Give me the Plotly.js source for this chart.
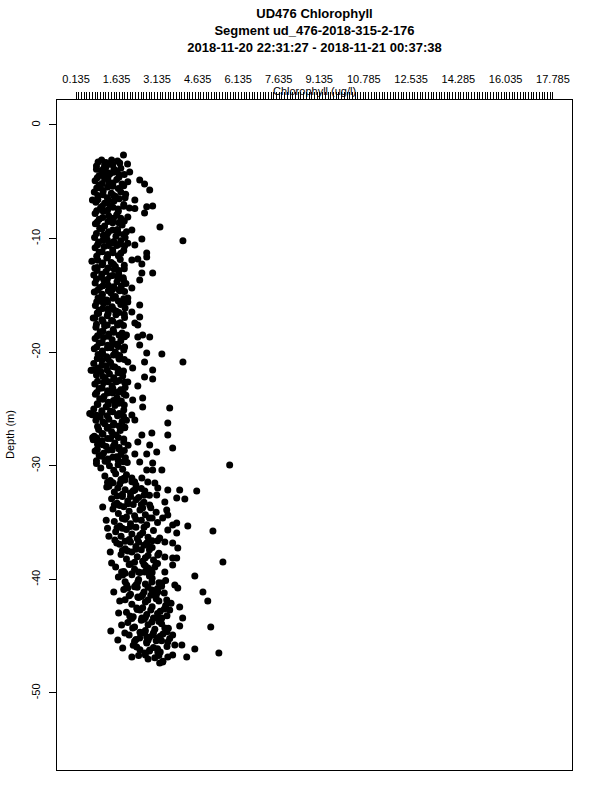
<!DOCTYPE html>
<html>
<head>
<meta charset="utf-8">
<script src="https://cdn.plot.ly/plotly-3.0.1.min.js"></script>
<style>
html,body{margin:0;padding:0;background:#fff;}
#chart{width:600px;height:800px;}
</style>
</head>
<body>
<div id="chart"></div>
<script>
// ---- Data: chlorophyll (ug/l) vs depth (m) ----
// Upper part of the profile (about -2.6 m to -30.5 m)
const chlUpper = [
  1.89,1.08,1.45,1.67,2.04,1.19,0.89,1.24,1.49,1.79,
  2.12,0.89,1.09,1.24,1.39,1.54,1.74,0.99,1.31,1.64,
  2.49,2.67,0.84,0.99,1.19,1.34,1.49,1.64,1.84,2.05,
  2.86,0.81,0.94,1.14,1.29,1.44,1.59,1.79,1.95,1.04,
  2.31,2.97,2.75,0.87,1.04,1.19,1.39,1.54,1.69,1.90,2.11,0.94,
  2.31,2.67,2.05,0.84,0.99,1.14,1.34,1.49,1.64,1.79,
  3.24,2.20,0.85,1.01,1.19,1.34,1.49,1.67,1.84,2.00,
  4.09,2.57,0.82,0.97,1.14,1.29,1.44,1.61,1.79,1.95,
  2.05,2.31,2.75,0.84,0.99,1.17,1.31,1.49,1.64,1.79,
  2.20,2.42,2.57,2.75,0.83,0.94,1.11,1.27,1.44,1.59,1.77,1.92,
  2.97,2.57,0.79,0.91,1.07,1.24,1.39,1.55,1.71,1.88,
  2.49,2.20,0.84,1.01,1.17,1.33,1.49,1.65,1.81,1.98,
  2.05,0.81,0.95,1.11,1.27,1.43,1.59,1.75,1.90,1.04,
  2.05,2.49,2.20,0.85,0.99,1.15,1.31,1.47,1.63,1.79,1.95,
  2.49,2.31,0.83,0.97,1.13,1.29,1.45,1.61,1.77,1.93,
  2.42,2.00,2.60,0.87,1.03,1.19,1.35,1.51,1.67,1.84,
  2.42,2.86,2.49,1.93,0.84,0.99,1.15,1.31,1.47,1.63,1.79,
  2.75,3.31,0.81,0.95,1.11,1.27,1.43,1.59,1.75,1.90,
  4.09,2.05,2.67,0.79,0.93,1.09,1.25,1.41,1.57,1.73,2.23,
  2.97,2.67,2.97,0.74,0.89,1.05,1.21,1.37,1.53,1.69,1.86,
  2.42,2.05,0.83,0.99,1.15,1.31,1.47,1.63,1.79,1.95,
  2.60,2.23,0.85,1.01,1.17,1.33,1.49,1.65,1.81,1.98,
  2.60,3.60,2.20,0.79,0.94,1.09,1.25,1.41,1.57,1.73,1.90,
  2.31,3.53,0.73,0.87,1.03,1.19,1.35,1.51,1.67,1.84,2.00,
  2.94,2.57,3.53,0.81,0.97,1.13,1.29,1.45,1.61,1.77,1.94,
  2.42,2.86,3.71,0.77,0.93,1.09,1.25,1.41,1.57,1.73,1.90,2.06,
  3.12,2.75,2.31,0.84,0.99,1.15,1.31,1.47,1.63,1.79,1.96,
  2.97,5.82,2.49,2.75,3.31,2.97,0.89,1.05,1.21,1.37,1.53,1.69,1.86,2.03,
  0.74,0.72,0.69,0.64,0.75,0.77
];
const depthUpper = [
  -2.64,-3.08,-3.08,-3.17,-3.43,-3.52,-3.60,-3.30,-3.50,-3.80,
  -4.14,-3.90,-4.00,-3.70,-4.30,-3.90,-4.40,-4.45,-4.20,-4.10,
  -4.84,-5.19,-4.90,-5.30,-4.70,-5.00,-5.40,-4.80,-5.20,-5.00,
  -5.72,-5.90,-6.20,-5.80,-6.40,-6.00,-6.30,-5.90,-6.40,-5.55,
  -6.60,-7.13,-7.20,-6.80,-7.30,-6.90,-7.10,-6.70,-7.40,-7.00,-7.30,-6.55,
  -7.35,-7.75,-8.10,-7.80,-8.30,-7.60,-8.00,-8.40,-7.90,-8.20,
  -8.98,-9.24,-8.70,-9.10,-8.90,-9.40,-8.60,-9.20,-8.80,-9.40,
  -10.20,-10.04,-9.90,-10.30,-9.70,-10.10,-10.40,-9.80,-10.20,-9.90,
  -10.40,-10.56,-11.27,-10.80,-11.20,-10.70,-11.40,-11.00,-10.60,-11.30,
  -11.88,-11.80,-12.24,-11.62,-12.60,-11.90,-12.30,-11.70,-12.10,-12.45,-11.85,-12.35,
  -13.03,-13.03,-13.20,-12.80,-13.40,-12.90,-13.30,-12.70,-13.10,-13.45,
  -13.64,-14.35,-13.90,-14.30,-13.70,-14.10,-14.45,-13.80,-14.20,-13.95,
  -15.23,-14.70,-15.20,-14.90,-15.40,-14.80,-15.10,-14.60,-15.30,-15.50,
  -15.58,-15.85,-16.46,-15.90,-16.30,-15.70,-16.20,-16.00,-16.40,-15.80,-16.10,
  -16.90,-17.43,-17.00,-16.60,-17.30,-16.80,-17.20,-16.70,-17.40,-16.95,
  -17.60,-18.49,-18.49,-17.80,-18.20,-17.70,-18.40,-18.00,-17.60,-18.30,
  -18.66,-18.66,-19.37,-19.54,-18.80,-19.20,-18.70,-19.40,-18.90,-19.30,-19.00,
  -20.07,-20.16,-19.70,-20.20,-19.90,-20.40,-19.60,-20.00,-20.30,-19.80,
  -20.86,-20.86,-20.86,-21.00,-21.40,-20.70,-21.20,-20.90,-21.30,-20.60,-21.40,
  -21.57,-22.18,-22.36,-21.60,-22.00,-21.70,-22.30,-21.90,-22.40,-21.80,-22.10,
  -22.98,-22.62,-22.80,-23.20,-22.70,-23.40,-23.00,-22.60,-23.30,-23.10,
  -24.03,-24.21,-23.70,-24.10,-23.90,-24.40,-23.60,-24.00,-24.30,-23.80,
  -24.82,-24.91,-25.53,-25.00,-24.60,-25.30,-24.80,-25.20,-24.70,-25.40,-25.10,
  -25.97,-26.23,-25.50,-26.00,-25.70,-26.30,-25.90,-26.40,-25.60,-26.10,-26.00,
  -27.11,-27.29,-27.29,-27.40,-26.80,-27.20,-26.70,-27.00,-27.30,-26.90,-26.60,
  -27.90,-28.17,-28.43,-27.70,-28.10,-27.80,-28.30,-27.60,-28.00,-28.40,-27.90,-28.20,
  -28.79,-28.96,-28.96,-28.70,-29.10,-28.90,-29.40,-28.60,-29.20,-29.00,-29.30,
  -29.75,-29.93,-29.67,-30.37,-30.37,-30.37,-29.80,-30.20,-29.60,-30.00,-30.40,-29.90,-30.30,-29.70,
  -6.60,-12.00,-21.60,-25.40,-27.50,-17.00
];
// Upper part, additional points filling the dense core
const chlUpperFill = [
  0.95,1.15,1.35,1.55,1.75,
  0.92,1.12,1.32,1.52,1.72,1.92,
  0.90,1.10,1.30,1.50,1.70,1.90,
  0.93,1.13,1.33,1.53,1.73,1.97,
  0.90,1.10,1.30,1.50,1.70,1.90,
  0.92,1.12,1.32,1.52,1.72,1.92,
  0.89,1.09,1.29,1.49,1.69,1.89,
  0.93,1.13,1.33,1.53,1.73,1.93,
  0.90,1.10,1.30,1.50,1.70,1.90,
  0.92,1.12,1.32,1.52,1.72,1.92,
  0.89,1.09,1.29,1.49,1.69,1.89,
  0.93,1.13,1.33,1.53,1.73,1.93,
  0.90,1.10,1.30,1.50,1.70,1.90,
  0.92,1.12,1.32,1.52,1.72,1.92,
  0.89,1.09,1.29,1.49,1.69,1.89,
  0.93,1.13,1.33,1.53,1.73,1.93,
  0.90,1.10,1.30,1.50,1.70,1.90,
  0.92,1.12,1.32,1.52,1.72,1.92,
  0.89,1.09,1.29,1.49,1.69,1.89,
  0.93,1.13,1.33,1.53,1.73,1.93,
  0.90,1.10,1.30,1.50,1.70,1.90,
  0.92,1.12,1.32,1.52,1.72,1.92,
  0.89,1.09,1.29,1.49,1.69,1.89,
  0.93,1.13,1.33,1.53,1.73,1.93,
  0.90,1.10,1.30,1.50,1.70,1.90,
  0.92,1.12,1.32,1.52,1.72,1.92,
  0.89,1.09,1.29,1.49,1.69,1.89
];
const depthUpperFill = [
  -3.25,-3.85,-3.45,-3.95,-3.35,
  -4.65,-4.25,-4.55,-4.15,-4.60,-4.35,
  -5.55,-5.15,-5.45,-5.10,-5.60,-5.35,
  -6.55,-6.15,-6.60,-6.20,-6.50,-6.10,
  -7.55,-7.15,-7.50,-7.25,-7.60,-7.15,
  -8.55,-8.15,-8.50,-8.20,-8.60,-8.45,
  -9.55,-9.15,-9.60,-9.25,-9.50,-9.65,
  -10.55,-10.15,-10.60,-10.25,-10.50,-10.65,
  -11.55,-11.15,-11.60,-11.25,-11.50,-11.05,
  -12.55,-12.15,-12.60,-12.25,-12.80,-12.65,
  -13.55,-13.15,-13.60,-13.25,-13.50,-13.65,
  -14.55,-14.15,-14.60,-14.25,-14.50,-14.65,
  -15.55,-15.15,-15.60,-15.25,-15.50,-15.65,
  -16.55,-16.15,-16.60,-16.25,-16.50,-16.65,
  -17.55,-17.15,-17.60,-17.25,-17.50,-17.65,
  -18.55,-18.15,-18.60,-18.25,-18.50,-18.65,
  -19.55,-19.15,-19.60,-19.25,-19.50,-19.65,
  -20.55,-20.15,-20.60,-20.25,-20.50,-20.65,
  -21.55,-21.15,-21.60,-21.25,-21.50,-21.65,
  -22.55,-22.15,-22.60,-22.25,-22.50,-22.65,
  -23.55,-23.15,-23.60,-23.25,-23.50,-23.65,
  -24.55,-24.15,-24.60,-24.25,-24.50,-24.65,
  -25.55,-25.15,-25.60,-25.25,-25.50,-25.65,
  -26.55,-26.15,-26.60,-26.25,-26.50,-26.65,
  -27.55,-27.15,-27.60,-27.25,-27.50,-27.65,
  -28.55,-28.15,-28.60,-28.25,-28.50,-28.65,
  -29.55,-29.15,-29.60,-29.25,-29.50,-29.65
];
// Lower part of the profile, scattered points (about -31 m to -47.4 m)
const chlLowerScatter = [
  1.27,1.12,1.68,1.94,2.20,2.57,2.79,3.05,3.16,3.53,
  3.97,4.60,3.86,4.16,3.12,3.42,2.68,2.31,2.86,2.60,
  3.49,3.34,3.53,3.86,4.27,5.20,3.71,3.53,3.86,3.23,
  3.42,3.71,3.90,2.86,3.16,3.42,3.71,3.86,3.71,5.57,
  1.45,1.57,1.64,1.82,1.86,4.53,2.68,3.05,3.42,3.79,
  2.01,2.42,2.94,3.31,
  1.53,2.05,1.75,1.71,2.12,1.82,1.42,1.68,1.86,2.20,
  2.38,2.68,3.34,3.23,3.71,4.23,4.53,5.42,5.12,5.01,
  4.83,3.90,3.97,4.08,3.97,3.16,3.71,3.79,3.60,3.49,
  3.16,2.94,2.79,2.42,2.38,2.57,2.94,3.31,3.42,2.68,
  2.97,3.53,4.05,3.16,2.86,3.53,1.94,2.23,2.49,2.75
];
const depthLowerScatter = [
  -31.87,-33.63,-31.95,-31.25,-31.07,-31.07,-31.43,-31.51,-31.95,-32.13,
  -32.13,-32.22,-32.83,-32.92,-32.57,-33.19,-32.22,-32.13,-33.45,-33.71,
  -33.89,-34.60,-34.33,-35.04,-35.30,-35.74,-35.21,-35.65,-35.92,-36.36,
  -36.71,-36.80,-37.24,-37.15,-37.85,-38.03,-38.12,-38.12,-38.73,-38.47,
  -38.56,-36.53,-36.80,-39.35,-39.61,-39.70,-39.35,-38.91,-39.35,-40.49,
  -40.49,-40.23,-40.23,-40.32,
  -41.11,-40.76,-41.90,-42.96,-43.22,-44.01,-44.54,-45.33,-46.04,-46.83,
  -45.95,-46.48,-47.27,-47.36,-46.65,-46.83,-46.13,-46.48,-44.19,-41.90,
  -41.11,-40.76,-42.43,-43.40,-44.10,-45.16,-44.89,-45.77,-42.69,-41.81,
  -41.11,-40.93,-41.81,-41.55,-42.52,-43.40,-43.75,-43.40,-44.28,-44.63,
  -44.89,-45.51,-45.77,-46.39,-46.21,-46.83,-44.72,-44.28,-45.16,-45.07
];
// Lower part of the profile, dense core
const chlLowerCore = [
  1.20,1.40,1.60,1.80,2.00,2.20,1.50,1.90,
  1.35,1.55,1.75,1.95,2.15,2.35,2.55,1.85,2.25,
  1.45,1.65,1.85,2.05,2.25,2.45,2.65,2.85,1.75,2.35,
  1.50,1.70,1.90,2.10,2.30,2.50,2.70,2.90,3.10,2.00,
  1.55,1.75,1.95,2.15,2.35,2.55,2.75,2.95,3.15,1.85,
  1.60,1.80,2.00,2.20,2.40,2.60,2.80,3.00,2.10,2.50,
  1.75,1.95,2.15,2.35,2.55,2.75,2.95,3.15,2.05,2.65,
  1.80,2.00,2.20,2.40,2.60,2.80,3.00,3.20,2.30,2.70,
  1.60,1.90,2.10,2.30,2.50,2.70,2.90,3.10,2.20,2.80,
  1.70,1.95,2.20,2.45,2.70,2.95,3.20,2.35,2.85,3.45,
  1.90,2.15,2.40,2.65,2.90,3.15,3.40,2.55,3.05,
  1.95,2.20,2.45,2.70,2.95,3.20,3.45,2.60,3.10,3.65,
  2.00,2.25,2.50,2.75,3.00,3.25,3.50,2.65,3.15,
  2.05,2.30,2.55,2.80,3.05,3.30,3.55,2.70,3.20,
  2.10,2.35,2.60,2.85,3.10,3.35,3.60,2.75,3.25,
  2.25,2.50,2.75,3.00,3.25,3.50,2.85,3.15,
  2.45,2.80,3.05,3.35,
  1.25,1.35,1.40,1.30
];
const depthLowerCore = [
  -30.90,-31.30,-30.70,-31.20,-30.80,-31.40,-31.50,-31.10,
  -31.80,-32.30,-31.60,-32.10,-32.40,-31.70,-32.00,-32.50,-32.20,
  -32.90,-33.30,-32.70,-33.10,-33.40,-32.80,-33.20,-32.60,-33.50,-33.00,
  -33.80,-34.20,-33.60,-34.00,-34.40,-33.90,-34.30,-33.70,-34.10,-34.50,
  -34.90,-35.30,-34.70,-35.10,-35.40,-34.80,-35.20,-34.60,-35.00,-35.50,
  -35.80,-36.20,-35.60,-36.00,-36.40,-35.90,-36.30,-35.70,-36.50,-36.10,
  -36.90,-37.30,-36.70,-37.10,-37.40,-36.80,-37.20,-36.60,-37.50,-37.00,
  -37.80,-38.20,-37.60,-38.00,-38.40,-37.90,-38.30,-37.70,-38.50,-38.10,
  -38.90,-39.30,-38.70,-39.10,-39.40,-38.80,-39.20,-38.60,-39.50,-39.00,
  -39.80,-40.20,-39.60,-40.00,-40.40,-39.90,-40.30,-40.50,-39.70,-40.10,
  -40.90,-41.30,-40.70,-41.10,-41.40,-40.80,-41.20,-41.50,-41.00,
  -41.80,-42.20,-41.60,-42.00,-42.40,-41.90,-42.30,-42.50,-41.70,-42.10,
  -42.90,-43.30,-42.70,-43.10,-43.40,-42.80,-43.20,-43.50,-43.00,
  -43.80,-44.20,-43.60,-44.00,-44.40,-43.90,-44.30,-44.50,-43.70,
  -44.90,-45.30,-44.70,-45.10,-45.40,-44.80,-45.20,-45.50,-45.00,
  -45.80,-46.20,-45.60,-46.00,-46.40,-45.90,-46.30,-46.10,
  -46.70,-47.00,-46.90,-47.20,
  -34.80,-36.20,-37.60,-35.50
];
// Lower part, additional points filling the core
const chlLowerFill = [
  1.30,1.80,2.30,
  1.65,2.15,2.65,
  1.55,2.05,2.55,
  1.85,2.35,2.85,
  1.65,2.15,2.65,
  1.95,2.45,2.95,
  1.85,2.35,2.85,
  2.15,2.65,3.15,
  1.95,2.45,2.95,
  2.30,2.80,3.30,
  2.10,2.60,3.10,
  2.40,2.90,3.40,
  2.20,2.70,3.20,
  2.50,3.00,3.50,
  2.30,2.80,3.30,
  2.70,3.20
];
const depthLowerFill = [
  -31.45,-31.35,-31.40,
  -32.65,-32.70,-32.60,
  -33.45,-33.35,-33.40,
  -34.65,-34.70,-34.60,
  -35.45,-35.35,-35.40,
  -36.65,-36.70,-36.60,
  -37.45,-37.35,-37.40,
  -38.65,-38.70,-38.60,
  -39.45,-39.35,-39.40,
  -40.65,-40.70,-40.60,
  -41.45,-41.35,-41.40,
  -42.65,-42.70,-42.60,
  -43.45,-43.35,-43.40,
  -44.65,-44.70,-44.60,
  -45.45,-45.35,-45.40,
  -46.65,-46.70
];

// ---- Axis ticks / labels ----
const xTickValues = [0.135,1.635,3.135,4.635,6.135,7.635,9.135,10.785,12.535,14.285,16.035,17.785];
const xTickLabels = ['0.135','1.635','3.135','4.635','6.135','7.635','9.135','10.785','12.535','14.285','16.035','17.785'];
const yTickValues = [0,-10,-20,-30,-40,-50];
const yTickLabels = ['0','-10','-20','-30','-40','-50'];

// ---- Build ----
const chl = chlUpper.concat(chlUpperFill, chlLowerScatter, chlLowerCore, chlLowerFill);
const depth = depthUpper.concat(depthUpperFill, depthLowerScatter, depthLowerCore, depthLowerFill);

const xMin = 0.135, xMax = 17.785;
const xPad = (xMax - xMin) * 0.04;
const xRange = [xMin - xPad, xMax + xPad];
const yRange = [-56.78, 2.2];

// dense minor tick marks along the top axis
const minorTicks = [];
const nMinor = 176;
for (let i = 0; i <= nMinor; i++) minorTicks.push(xMin + (xMax - xMin) * i / nMinor);

const FONT = 'Liberation Sans, Arial, Helvetica, sans-serif';

const traces = [
  {
    type: 'scatter', mode: 'markers',
    x: chl, y: depth,
    marker: {color: '#000', size: 7, symbol: 'circle', line: {width: 0}},
    hoverinfo: 'x+y'
  },
  {
    type: 'scatter', mode: 'markers', x: [], y: [],
    xaxis: 'x2', yaxis: 'y', hoverinfo: 'skip', showlegend: false
  }
];

const layout = {
  width: 600, height: 800,
  margin: {l: 57, r: 28, t: 100, b: 30, pad: 0},
  paper_bgcolor: '#fff', plot_bgcolor: '#fff',
  font: {family: FONT, size: 11, color: '#000'},
  showlegend: false,
  title: {
    text: '<b>UD476 Chlorophyll</b><br><b>Segment ud_476-2018-315-2-176</b><br><b>2018-11-20 22:31:27 - 2018-11-21 00:37:38</b>',
    font: {family: FONT, size: 13, color: '#000'},
    x: 0.5, xref: 'paper', xanchor: 'center',
    y: 0.9775, yref: 'container', yanchor: 'top'
  },
  xaxis: {
    side: 'top', range: xRange, autorange: false,
    tickmode: 'array', tickvals: xTickValues, ticktext: xTickLabels,
    ticks: '', ticklabelstandoff: 12,
    tickfont: {family: FONT, size: 11, color: '#000'},
    showline: true, mirror: true, linecolor: '#000', linewidth: 1,
    showgrid: false, zeroline: false, fixedrange: true
  },
  xaxis2: {
    overlaying: 'x', side: 'top', anchor: 'y',
    range: xRange, autorange: false,
    tickmode: 'array', tickvals: minorTicks, showticklabels: false,
    ticks: 'outside', ticklen: 7, tickwidth: 1, tickcolor: '#000',
    showline: false, showgrid: false, zeroline: false, fixedrange: true
  },
  yaxis: {
    range: yRange, autorange: false,
    tickmode: 'array', tickvals: yTickValues, ticktext: yTickLabels,
    tickangle: -90, ticks: 'outside', ticklen: 7, tickwidth: 1, tickcolor: '#000',
    ticklabelstandoff: 5,
    tickfont: {family: FONT, size: 11, color: '#000'},
    showline: true, mirror: true, linecolor: '#000', linewidth: 1,
    showgrid: false, zeroline: false, fixedrange: true
  },
  annotations: [
    {
      text: 'Chlorophyll (ug/l)', xref: 'paper', yref: 'paper',
      x: 0.5, y: 1, xanchor: 'center', yanchor: 'middle', yshift: 9,
      showarrow: false, font: {family: FONT, size: 11, color: '#000'}
    },
    {
      text: 'Depth (m)', xref: 'paper', yref: 'paper',
      x: 0, y: 0.5, xanchor: 'center', yanchor: 'middle', xshift: -47,
      textangle: -90, showarrow: false, font: {family: FONT, size: 11, color: '#000'}
    }
  ]
};

Plotly.newPlot('chart', traces, layout, {displayModeBar: false, staticPlot: true});
</script>
</body>
</html>
